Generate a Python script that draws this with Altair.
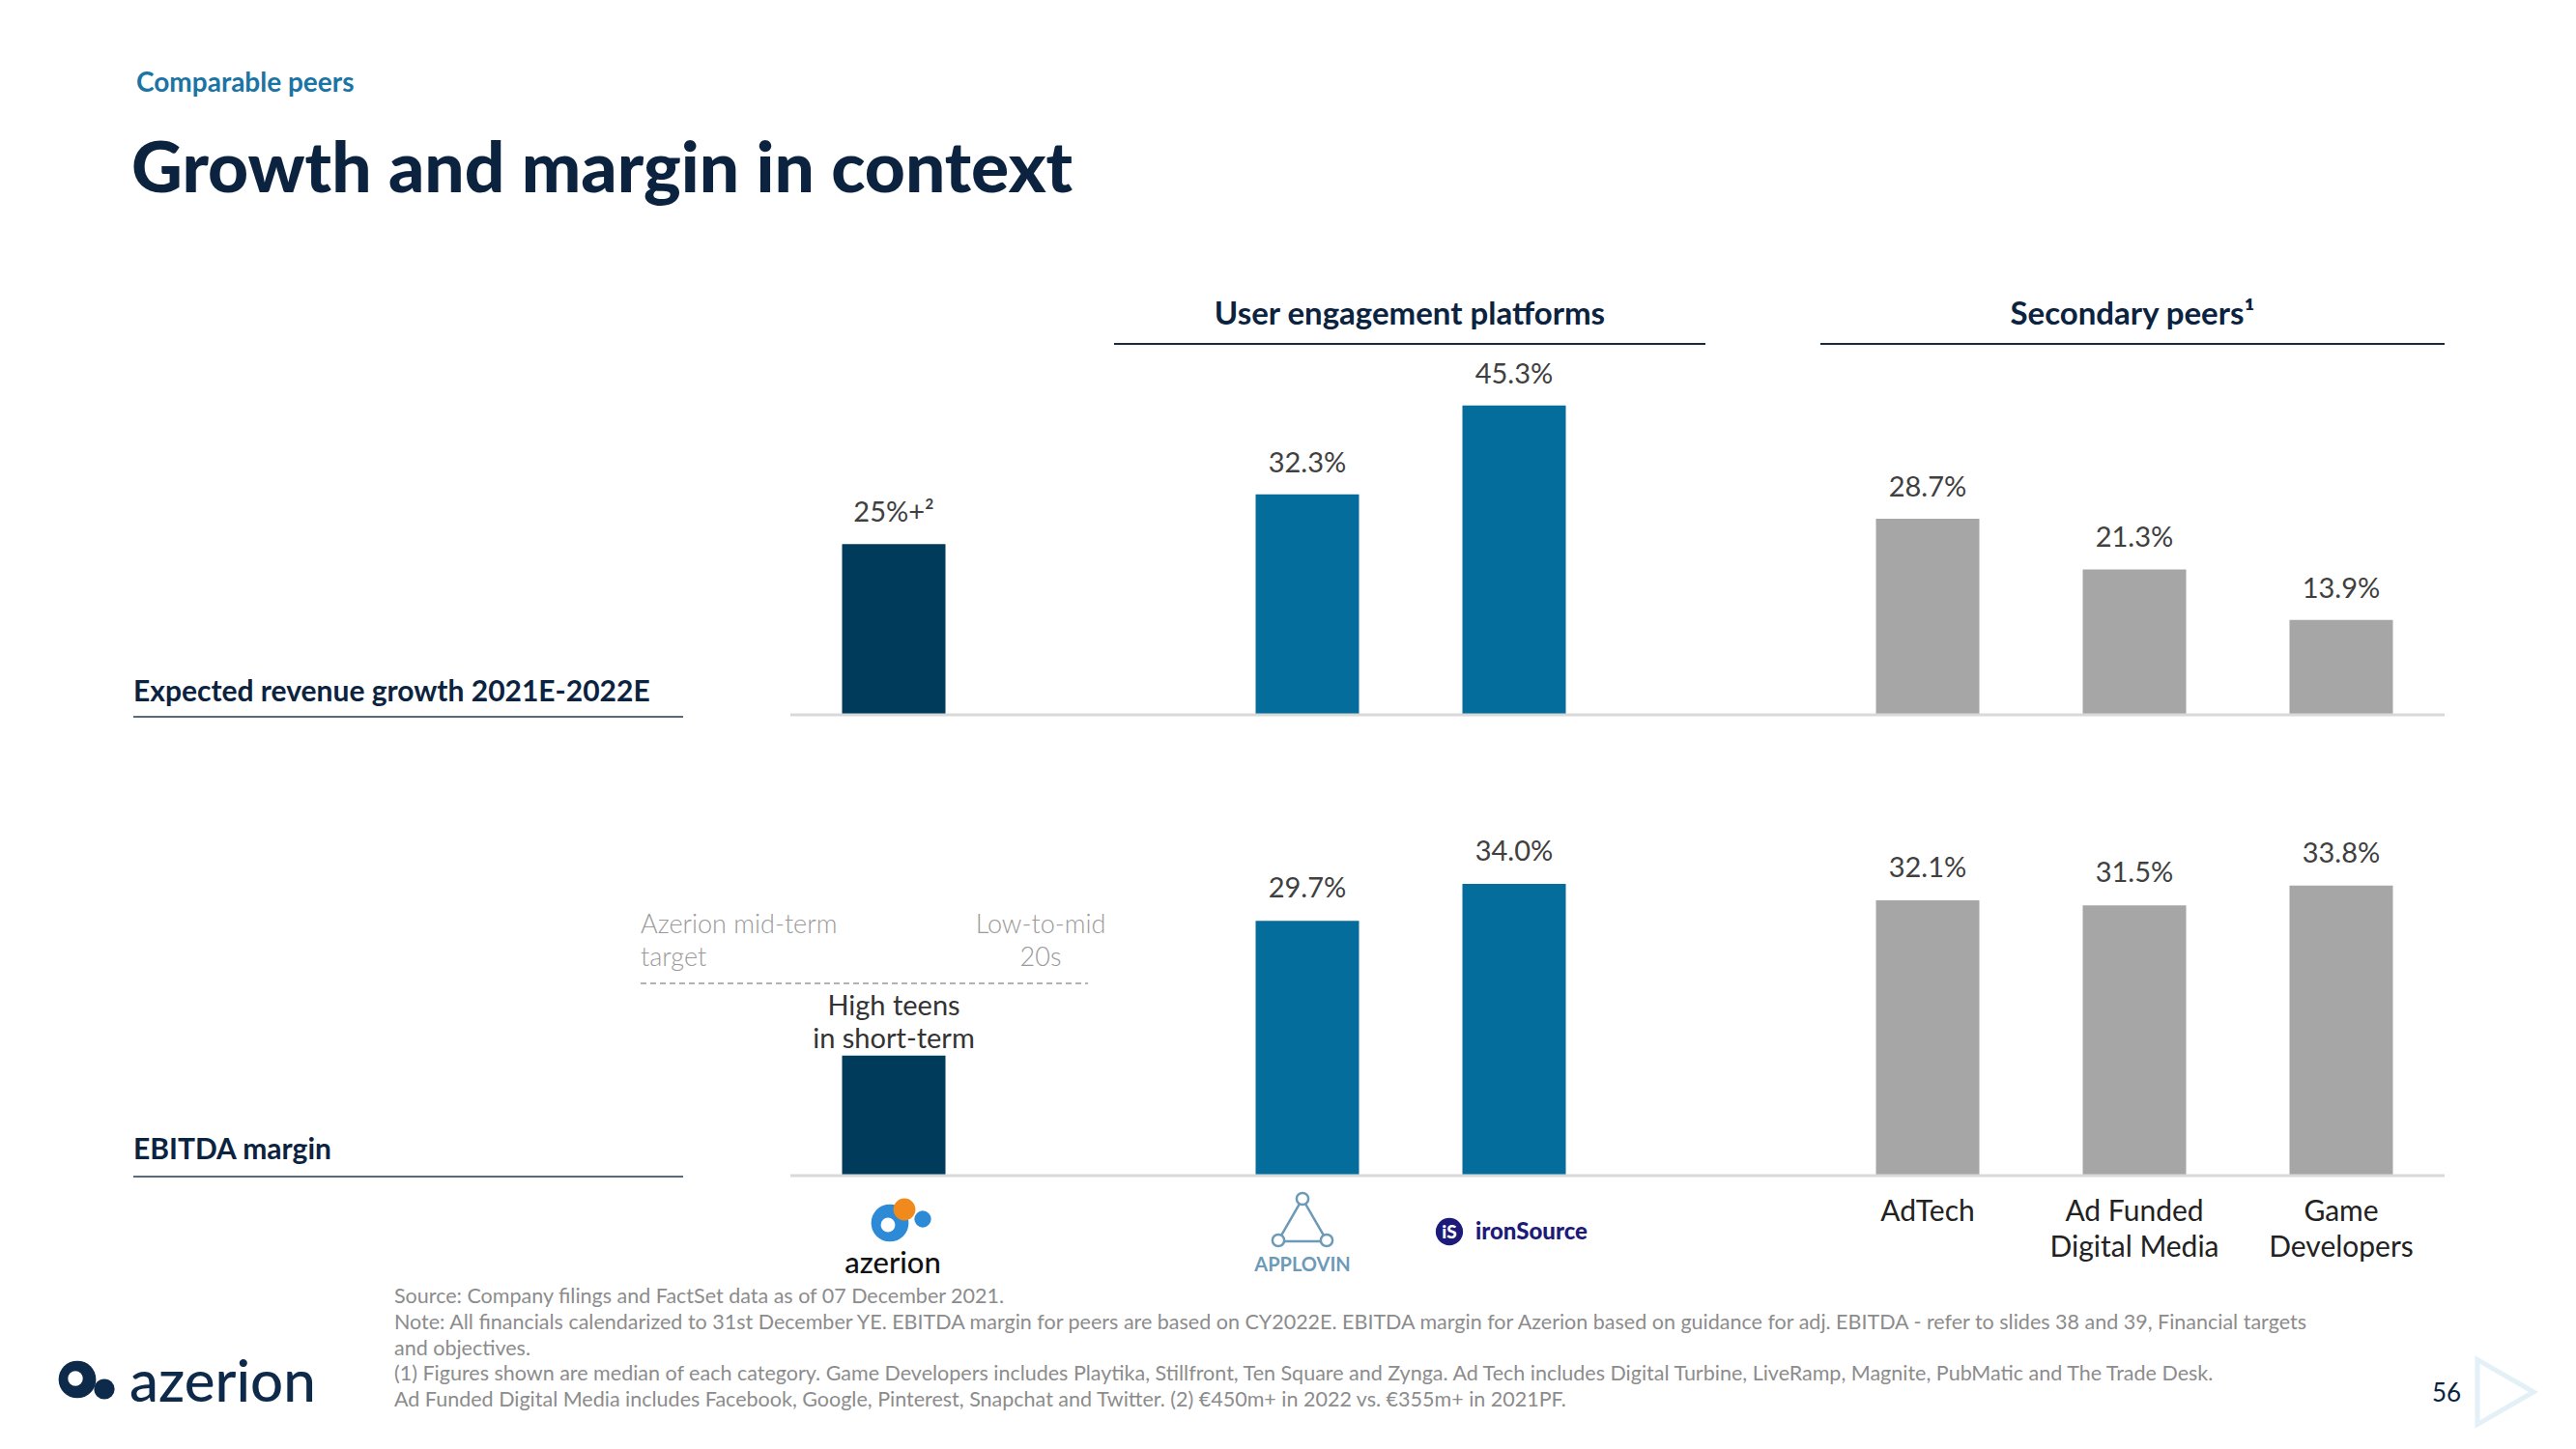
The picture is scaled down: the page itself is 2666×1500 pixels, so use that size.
import altair as alt
import pandas as pd

# ---------------- data ----------------
slots = ["Azerion", "gap1", "AppLovin", "ironSource", "gap2",
         "AdTech", "Ad Funded Digital Media", "Game Developers"]
categories = ["Azerion", "AppLovin", "ironSource", "AdTech",
              "Ad Funded Digital Media", "Game Developers"]
bar_colors = ["#003b5c", "#046d9b", "#046d9b", "#a6a6a6", "#a6a6a6", "#a6a6a6"]
revenue_growth = [25.0, 32.3, 45.3, 28.7, 21.3, 13.9]
revenue_labels = ["25%+²", "32.3%", "45.3%", "28.7%", "21.3%", "13.9%"]
ebitda_margin = [14.0, 29.7, 34.0, 32.1, 31.5, 33.8]
ebitda_labels = ["High teens\nin short-term", "29.7%", "34.0%", "32.1%", "31.5%", "33.8%"]
peer_labels = ["AdTech", "Ad Funded\nDigital Media", "Game\nDevelopers"]
peer_cats = ["AdTech", "Ad Funded Digital Media", "Game Developers"]

footnotes = [
    "Source: Company filings and FactSet data as of 07 December 2021.",
    "Note: All financials calendarized to 31st December YE. EBITDA margin for peers are based on CY2022E. EBITDA margin for Azerion based on guidance for adj. EBITDA - refer to slides 38 and 39, Financial targets",
    "and objectives.",
    "(1) Figures shown are median of each category. Game Developers includes Playtika, Stillfront, Ten Square and Zynga. Ad Tech includes Digital Turbine, LiveRamp, Magnite, PubMatic and The Trade Desk.",
    "Ad Funded Digital Media includes Facebook, Google, Pinterest, Snapchat and Twitter. (2) €450m+ in 2022 vs. €355m+ in 2021PF.",
]

FONT = "Lato"
NAVY = "#0c2340"
OFF = 8  # page margin

dummy = pd.DataFrame({"a": [0]})


def text_at(x, y, s, **kw):
    kw.setdefault("font", FONT)
    return alt.Chart(dummy).mark_text(**kw).encode(
        x=alt.value(x - OFF), y=alt.value(y - OFF), text=alt.value(s))


def hrule(x1, x2, y, **kw):
    return alt.Chart(dummy).mark_rule(**kw).encode(
        x=alt.value(x1 - OFF), x2=alt.value(x2 - OFF), y=alt.value(y - OFF))


def dot(x, y, **kw):
    return alt.Chart(dummy).mark_point(**kw).encode(
        x=alt.value(x - OFF), y=alt.value(y - OFF))


x_enc = alt.X("cat:N", sort=slots,
              scale=alt.Scale(domain=slots, range=[818 - OFF, 2530 - OFF],
                              paddingInner=0.5, paddingOuter=0.25),
              axis=None)

top_df = pd.DataFrame({"cat": categories, "value": revenue_growth,
                       "label": revenue_labels, "color": bar_colors})
bot_df = pd.DataFrame({"cat": categories, "value": ebitda_margin,
                       "label": ebitda_labels, "color": bar_colors})

y_top = alt.Y("value:Q", scale=alt.Scale(domain=[0, 50], range=[740 - OFF, 740 - OFF - 353.5]), axis=None)
y_bot = alt.Y("value:Q", scale=alt.Scale(domain=[0, 40], range=[1217 - OFF, 1217 - OFF - 355.2]), axis=None)

VAL_SIZE = 29

top_base = alt.Chart(top_df)
top_layer = alt.layer(
    top_base.mark_bar().encode(x=x_enc, y=y_top, color=alt.Color("color:N", scale=None)),
    top_base.mark_text(dy=-32, baseline="middle", fontSize=VAL_SIZE, color="#404040", font=FONT)
    .encode(x=x_enc, y=y_top, text="label:N"),
)

bot_base = alt.Chart(bot_df)
bot_layer = alt.layer(
    bot_base.mark_bar().encode(x=x_enc, y=y_bot, color=alt.Color("color:N", scale=None)),
    bot_base.transform_filter(alt.datum.cat != "Azerion")
    .mark_text(dy=-33, baseline="middle", fontSize=VAL_SIZE, color="#404040", font=FONT)
    .encode(x=x_enc, y=y_bot, text="label:N"),
    bot_base.transform_filter(alt.datum.cat == "Azerion")
    .mark_text(dy=-51, baseline="middle", fontSize=29, color="#333333", font=FONT,
               lineBreak="\n", lineHeight=34)
    .encode(x=x_enc, y=y_bot, text="label:N"),
)

peer_df = pd.DataFrame({"cat": peer_cats, "label": peer_labels})
peer_text = alt.Chart(peer_df).mark_text(
    baseline="middle", fontSize=30, color="#222222", font=FONT,
    lineBreak="\n", lineHeight=37).encode(
    x=x_enc, y=alt.value(1255 - OFF), text="label:N")

layers = [top_layer, bot_layer, peer_text]

# baselines and underlines
layers += [
    hrule(818, 2530, 740, color="#d9d9d9", strokeWidth=3),
    hrule(818, 2530, 1217, color="#d9d9d9", strokeWidth=3),
    hrule(138, 707, 742, color="#1f3a52", strokeWidth=1.5),
    hrule(138, 707, 1218, color="#1f3a52", strokeWidth=1.5),
    hrule(1153, 1765, 356, color="#1a2a40", strokeWidth=2),
    hrule(1884, 2530, 356, color="#1a2a40", strokeWidth=2),
    hrule(663, 1126, 1018, color="#9a9a9a", strokeWidth=1.5, strokeDash=[6, 4]),
]

# titles and labels
layers += [
    text_at(141, 87, "Comparable peers", align="left", baseline="middle",
            fontSize=28, fontWeight="bold", color="#1a74a4"),
    text_at(136, 199, "Growth and margin in context", align="left", baseline="alphabetic",
            fontSize=73, fontWeight=900, color=NAVY),
    text_at(1459, 326, "User engagement platforms", align="center", baseline="middle",
            fontSize=33, fontWeight="bold", color=NAVY),
    text_at(2207, 326, "Secondary peers¹", align="center", baseline="middle",
            fontSize=33, fontWeight="bold", color=NAVY),
    text_at(138, 717, "Expected revenue growth 2021E-2022E", align="left", baseline="middle",
            fontSize=30, fontWeight="bold", color=NAVY),
    text_at(138, 1191, "EBITDA margin", align="left", baseline="middle",
            fontSize=30, fontWeight="bold", color=NAVY),
    text_at(663, 958, "Azerion mid-term\ntarget", align="left", baseline="middle",
            fontSize=27, fontWeight=300, color="#9a9a9a", lineBreak="\n", lineHeight=34),
    text_at(1077, 958, "Low-to-mid\n20s", align="center", baseline="middle",
            fontSize=27, fontWeight=300, color="#9a9a9a", lineBreak="\n", lineHeight=34),
]

# footnotes
fy = [1343, 1370, 1397, 1423, 1450]
for s, y in zip(footnotes, fy):
    layers.append(text_at(408, y, s, align="left", baseline="middle", fontSize=21.5, color="#8c8c8c"))

# azerion small logo under first bar
layers += [
    dot(921, 1266, shape="circle", filled=True, size=1500, color="#2d8ad6", opacity=1),
    dot(936, 1252, shape="circle", filled=True, size=520, color="#f08a1c", opacity=1),
    dot(919, 1268, shape="circle", filled=True, size=220, color="white", opacity=1),
    dot(955, 1262, shape="circle", filled=True, size=300, color="#2d8ad6", opacity=1),
    text_at(924, 1309, "azerion", align="center", baseline="middle", fontSize=31,
            fontWeight=500, color="#111111"),
]

# AppLovin logo
layers += [
    dot(1348, 1263, shape="triangle-up", filled=False, size=2600, color="#6d9ab6",
        strokeWidth=2.5, opacity=1),
    dot(1348, 1241, shape="circle", filled=True, size=150, color="white", opacity=1),
    dot(1348, 1241, shape="circle", filled=False, size=150, color="#6d9ab6", strokeWidth=2.5, opacity=1),
    dot(1323, 1284, shape="circle", filled=True, size=150, color="white", opacity=1),
    dot(1323, 1284, shape="circle", filled=False, size=150, color="#6d9ab6", strokeWidth=2.5, opacity=1),
    dot(1373, 1284, shape="circle", filled=True, size=150, color="white", opacity=1),
    dot(1373, 1284, shape="circle", filled=False, size=150, color="#6d9ab6", strokeWidth=2.5, opacity=1),
    text_at(1348, 1310, "APPLOVIN", align="center", baseline="middle", fontSize=20,
            fontWeight="bold", color="#6d9ab6"),
]

# ironSource logo
layers += [
    dot(1500, 1275, shape="circle", filled=True, size=800, color="#1d1b7a", opacity=1),
    text_at(1500, 1276, "iS", align="center", baseline="middle", fontSize=19,
            fontWeight=900, color="white"),
    text_at(1527, 1276, "ironSource", align="left", baseline="middle", fontSize=24,
            fontWeight=900, color="#1d1b7a"),
]

# bottom-left big azerion logo
layers += [
    dot(80, 1428, shape="circle", filled=True, size=1500, color="#0d2a4a", opacity=1),
    dot(78, 1427, shape="circle", filled=True, size=240, color="white", opacity=1),
    dot(108, 1438, shape="circle", filled=True, size=450, color="#0d2a4a", opacity=1),
    text_at(134, 1433, "azerion", align="left", baseline="middle", fontSize=60,
            fontWeight=500, color="#0d2a4a"),
]

# page number and arrow
layers += [
    text_at(2532, 1443, "56", align="center", baseline="middle", fontSize=26, color=NAVY),
    dot(2593, 1441, shape="triangle-right", filled=False, size=4500, color="#e3f0f7",
        strokeWidth=5, opacity=1),
]

chart = alt.layer(*layers).resolve_scale(
    x="independent", y="independent", color="independent"
).properties(
    width=2650, height=1484, padding=0, autosize="none", background="white"
).configure_view(stroke=None)

chart.save("out.html", embed_options={"renderer": "svg", "actions": False})
